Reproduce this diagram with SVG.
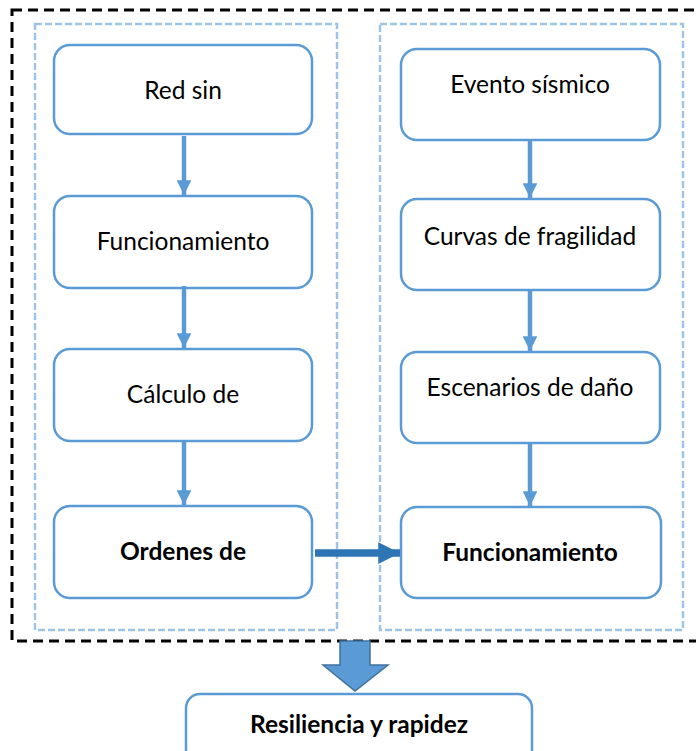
<svg xmlns="http://www.w3.org/2000/svg" width="696" height="751" viewBox="0 0 696 751">
<defs>
<style>
.outer{fill:none;stroke:#000;stroke-width:3;stroke-dasharray:10 6}
.cont{fill:none;stroke:#9DC3E6;stroke-width:2.4;stroke-dasharray:7 3}
.node{fill:#fff;stroke:#5B9BD5;stroke-width:2.5}
.t{font-family:Lato,"Open Sans","Liberation Sans",sans-serif;font-size:24.5px;fill:#000;text-anchor:middle}
.b{font-weight:bold}
.conn{stroke:#5B9BD5;stroke-width:4.5;fill:none}
</style>
<marker id="ah" viewBox="0 0 10 10" refX="10" refY="5" markerWidth="3.5" markerHeight="3.3" orient="auto" markerUnits="strokeWidth">
<path d="M0,0 L10,5 L0,10 z" fill="#5B9BD5"/>
</marker>
<marker id="ah2" viewBox="0 0 10 10" refX="10" refY="5" markerWidth="2.9" markerHeight="2.9" orient="auto" markerUnits="strokeWidth">
<path d="M0,0 L10,5 L0,10 z" fill="#2E75B6"/>
</marker>
</defs>
<rect x="0" y="0" width="696" height="751" fill="#fff"/>
<rect class="outer" x="12" y="10" width="700" height="631"/>
<rect class="cont" x="35" y="24" width="302" height="606"/>
<rect class="cont" x="380" y="24" width="303" height="606"/>

<g id="n1"><rect class="node" x="54" y="45" width="258" height="89" rx="16"/><text class="t" x="183" y="99">Red sin</text></g>
<g id="n2"><rect class="node" x="54" y="196" width="258" height="92" rx="16"/><text class="t" x="183" y="250">Funcionamiento</text></g>
<g id="n3"><rect class="node" x="54" y="349" width="258" height="92" rx="16"/><text class="t" x="183" y="403">Cálculo de</text></g>
<g id="n4"><rect class="node" x="54" y="506" width="258" height="92" rx="16"/><text class="t b" x="183" y="560">Ordenes de</text></g>
<g id="n5"><rect class="node" x="401" y="49" width="259" height="91" rx="16"/><text class="t" x="530" y="93">Evento sísmico</text></g>
<g id="n6"><rect class="node" x="401" y="199" width="259" height="91" rx="16"/><text class="t" x="530" y="245">Curvas de fragilidad</text></g>
<g id="n7"><rect class="node" x="401" y="352" width="259" height="91" rx="16"/><text class="t" x="530" y="396">Escenarios de daño</text></g>
<g id="n8"><rect class="node" x="401" y="507" width="260" height="91" rx="16"/><text class="t b" x="530" y="561">Funcionamiento</text></g>
<g id="n9"><rect class="node" x="186" y="694" width="346" height="70" rx="14"/><text class="t b" x="359" y="733">Resiliencia y rapidez</text></g>

<g id="connectors">
<line class="conn" x1="184" y1="136" x2="184" y2="195" marker-end="url(#ah)"/>
<line class="conn" x1="184" y1="286" x2="184" y2="348" marker-end="url(#ah)"/>
<line class="conn" x1="184" y1="441" x2="184" y2="505" marker-end="url(#ah)"/>
<line class="conn" x1="530" y1="141" x2="530" y2="198" marker-end="url(#ah)"/>
<line class="conn" x1="530" y1="291" x2="530" y2="351" marker-end="url(#ah)"/>
<line class="conn" x1="530" y1="444" x2="530" y2="506" marker-end="url(#ah)"/>
<line x1="315" y1="553" x2="400" y2="553" stroke="#2E75B6" stroke-width="7.5" marker-end="url(#ah2)"/>
<path d="M340,641 L370,641 L370,665 L388,665 L355,691 L323,665 L340,665 z" fill="#5B9BD5" stroke="#41719C" stroke-width="1.5"/>
</g>
</svg>
